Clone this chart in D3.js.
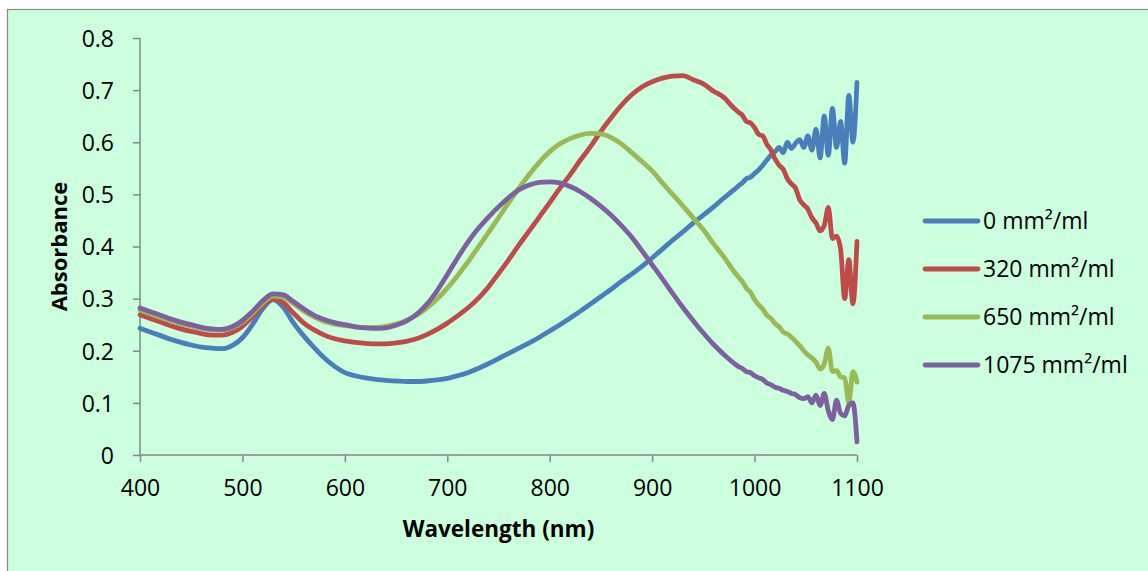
<!DOCTYPE html>
<html>
<head>
<meta charset="utf-8">
<script src="https://cdn.jsdelivr.net/npm/d3@7"></script>
<style>
  html, body { margin: 0; padding: 0; background: #ffffff; }
  svg { display: block; }
  text { font-family: "Open Sans", "Liberation Sans", sans-serif; fill: #000; }
</style>
</head>
<body>
<svg id="chart" width="1148" height="571"></svg>
<script>
// ---------- DATA ----------
const wavelengths = [
  400,410,420,430,440,450,460,470,480,490,
  500,510,520,530,540,550,560,570,580,590,
  600,610,620,630,640,650,660,670,680,690,
  700,710,720,730,740,750,760,770,780,790,
  800,810,820,830,840,850,860,870,880,890,
  900,910,920,930,940,950,960,970,980,
  984,988,992,996,1000,1004,1008,1012,1016,1020,
  1024,1028,1032,1036,1040,1044,1048,1052,1056,1060,
  1064,1068,1072,1076,1080,1084,1088,1092,1096,1100
];

const series0 = [ // 0 mm²/ml
  0.243,0.236,0.229,0.222,0.216,0.211,0.207,0.205,0.204,0.210,
  0.225,0.251,0.281,0.298,0.283,0.253,0.228,0.206,0.186,0.170,
  0.158,0.152,0.148,0.145,0.143,0.142,0.141,0.141,0.142,0.144,
  0.147,0.152,0.158,0.166,0.175,0.185,0.195,0.205,0.215,0.226,
  0.238,0.250,0.263,0.276,0.290,0.304,0.318,0.333,0.347,0.362,
  0.378,0.395,0.412,0.428,0.445,0.460,0.476,0.493,0.509,
  0.516,0.522,0.530,0.533,0.540,0.547,0.556,0.566,0.575,0.582,
  0.590,0.580,0.600,0.588,0.598,0.605,0.590,0.612,0.585,0.625,
  0.570,0.650,0.575,0.665,0.590,0.640,0.560,0.690,0.600,0.715
];

const series320 = [ // 320 mm²/ml
  0.269,0.262,0.255,0.248,0.242,0.237,0.233,0.230,0.230,0.235,
  0.247,0.266,0.287,0.299,0.292,0.272,0.253,0.240,0.230,0.223,
  0.219,0.216,0.214,0.213,0.213,0.215,0.218,0.223,0.231,0.241,
  0.253,0.267,0.282,0.300,0.322,0.348,0.375,0.403,0.430,0.457,
  0.484,0.512,0.538,0.566,0.592,0.621,0.647,0.671,0.691,0.706,
  0.716,0.723,0.727,0.728,0.720,0.712,0.698,0.686,0.665,
  0.658,0.652,0.640,0.637,0.628,0.615,0.612,0.596,0.585,0.568,
  0.556,0.548,0.530,0.520,0.512,0.490,0.480,0.472,0.455,0.445,
  0.430,0.440,0.475,0.415,0.420,0.395,0.300,0.375,0.290,0.410
];

const series650 = [ // 650 mm²/ml
  0.278,0.271,0.264,0.258,0.252,0.247,0.243,0.240,0.240,0.244,
  0.255,0.272,0.292,0.305,0.303,0.290,0.276,0.265,0.256,0.251,
  0.248,0.246,0.245,0.245,0.247,0.251,0.258,0.268,0.282,0.299,
  0.320,0.344,0.370,0.398,0.426,0.455,0.484,0.512,0.538,0.562,
  0.582,0.597,0.607,0.614,0.617,0.616,0.609,0.597,0.580,0.563,
  0.545,0.522,0.500,0.478,0.455,0.432,0.405,0.380,0.352,
  0.342,0.333,0.320,0.312,0.298,0.288,0.280,0.268,0.262,0.252,
  0.246,0.236,0.232,0.226,0.218,0.210,0.200,0.192,0.186,0.178,
  0.165,0.175,0.205,0.160,0.162,0.150,0.148,0.100,0.160,0.140
];

const series1075 = [ // 1075 mm²/ml
  0.282,0.275,0.268,0.261,0.255,0.250,0.245,0.242,0.241,0.246,
  0.258,0.276,0.296,0.309,0.307,0.294,0.280,0.268,0.260,0.254,
  0.250,0.246,0.244,0.243,0.244,0.249,0.257,0.270,0.289,0.315,
  0.346,0.378,0.408,0.434,0.456,0.476,0.494,0.509,0.518,0.523,
  0.524,0.522,0.515,0.505,0.492,0.477,0.460,0.440,0.418,0.392,
  0.365,0.338,0.310,0.283,0.258,0.234,0.212,0.193,0.176,
  0.170,0.166,0.160,0.158,0.152,0.148,0.145,0.138,0.135,0.130,
  0.128,0.124,0.122,0.118,0.116,0.110,0.108,0.112,0.100,0.115,
  0.095,0.118,0.085,0.068,0.105,0.080,0.075,0.095,0.100,0.025
];

const seriesNames = ["0 mm²/ml", "320 mm²/ml", "650 mm²/ml", "1075 mm²/ml"];
const seriesColors = ["#4a7ebb", "#be4b48", "#98b954", "#7d60a0"];
const xTicks = [400, 500, 600, 700, 800, 900, 1000, 1100];
const yTicks = [0, 0.1, 0.2, 0.3, 0.4, 0.5, 0.6, 0.7, 0.8];
const xTitle = "Wavelength (nm)";
const yTitle = "Absorbance";

// ---------- DRAW ----------
const svg = d3.select("#chart");
const W = 1148, H = 571;
const plot = { left: 140, right: 857, top: 38, bottom: 455 };

// background + frame
svg.append("rect").attr("x", 0).attr("y", 0).attr("width", W).attr("height", H).attr("fill", "#ffffff");
svg.append("rect")
  .attr("x", 7.5).attr("y", 9.5).attr("width", W + 10).attr("height", H + 10)
  .attr("fill", "#ccffdd").attr("stroke", "#878787").attr("stroke-width", 1.2);

const x = d3.scaleLinear().domain([400, 1100]).range([plot.left, plot.right]);
const y = d3.scaleLinear().domain([0, 0.8]).range([plot.bottom, plot.top]);

const axisColor = "#868686";

// Y axis
const yAxis = d3.axisLeft(y).tickValues(yTicks).tickSize(7).tickPadding(19)
  .tickFormat(d => d === 0 ? "0" : d3.format(".1f")(d));
const gy = svg.append("g").attr("transform", `translate(${plot.left},0)`).call(yAxis);
gy.select(".domain").attr("stroke", axisColor).attr("stroke-width", 1.5).attr("d", `M0,${plot.top}V${plot.bottom}`);
gy.selectAll(".tick line").attr("stroke", axisColor).attr("stroke-width", 1.5);
gy.selectAll(".tick text").attr("font-size", 23).attr("font-family", "Open Sans").attr("fill", "#000").attr("dy", "0.36em");

// X axis
const xAxis = d3.axisBottom(x).tickValues(xTicks).tickSize(7).tickPadding(17).tickFormat(d3.format("d"));
const gx = svg.append("g").attr("transform", `translate(0,${plot.bottom})`).call(xAxis);
gx.select(".domain").attr("stroke", axisColor).attr("stroke-width", 1.5).attr("d", `M${plot.left},0H${plot.right}`);
gx.selectAll(".tick line").attr("stroke", axisColor).attr("stroke-width", 1.5);
gx.selectAll(".tick text").attr("font-size", 23).attr("font-family", "Open Sans").attr("fill", "#000")
  .attr("y", 41).attr("dy", 0);

// Titles
svg.append("text").attr("x", (plot.left + plot.right) / 2).attr("y", 537)
  .attr("text-anchor", "middle").attr("font-size", 22.5).attr("font-weight", "bold").text(xTitle);
svg.append("text").attr("transform", `translate(67,${(plot.top + plot.bottom) / 2}) rotate(-90)`)
  .attr("text-anchor", "middle").attr("font-size", 22).attr("font-weight", "bold").text(yTitle);

// Lines
const allSeries = [series0, series320, series650, series1075];
const line = d3.line()
  .x((d, i) => x(wavelengths[i]))
  .y(d => y(d))
  .curve(d3.curveMonotoneX);

allSeries.forEach((vals, k) => {
  svg.append("path")
    .datum(vals)
    .attr("d", line)
    .attr("fill", "none")
    .attr("stroke", seriesColors[k])
    .attr("stroke-width", 4.8)
    .attr("stroke-linejoin", "round")
    .attr("stroke-linecap", "round");
});

// Legend
const legY0 = 221, legStep = 48;
seriesNames.forEach((name, k) => {
  const ly = legY0 + k * legStep;
  svg.append("line").attr("x1", 925).attr("x2", 978).attr("y1", ly).attr("y2", ly)
    .attr("stroke", seriesColors[k]).attr("stroke-width", 4.8).attr("stroke-linecap", "round");
  svg.append("text").attr("x", 983).attr("y", ly).attr("dy", "0.36em")
    .attr("font-size", 23).text(name);
});
</script>
</body>
</html>
